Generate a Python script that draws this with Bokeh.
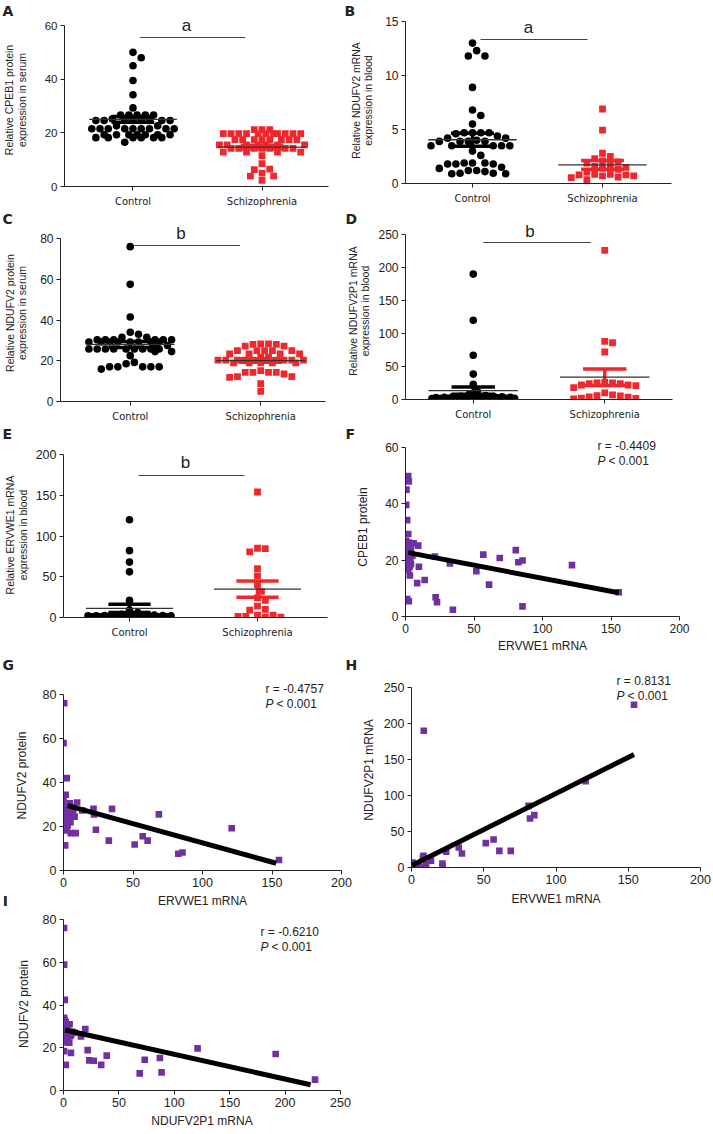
from bokeh.plotting import figure
from bokeh.models import Range1d, Label, FixedTicker
from bokeh.layouts import column, row
from bokeh.embed import file_html
from bokeh.resources import INLINE

RED = "#f0282d"
PURPLE = "#7030a0"
INK = "#222222"
SANS = "Liberation Sans"

GROUP_LABELS = {1: "Control", 2: "Schizophrenia"}

# ---------------- data ----------------
a_control = [50.0, 48.0, 45.0, 39.5, 34.2, 29.3, 26.6, 26.6, 26.6, 26.6, 26.6, 25.2,
             24.6, 24.6, 24.6, 24.6, 24.6, 24.6, 24.6, 24.6, 22.6, 22.6,
             21.5, 21.5, 21.5, 21.5, 21.5, 21.5, 21.5, 21.5, 21.5,
             19.3, 19.3, 19.3, 19.3, 19.3, 19.3, 19.3,
             18.2, 18.2, 18.2, 18.2, 18.2, 18.2, 16.5]
a_schizo = [21.2, 21.2, 21.2] + [19.7] * 11 + [17.5] * 8 + [15.5] * 7 + [14.2] * 7 + \
           [12.8] * 4 + [11.5, 8.5, 6.5, 6.3, 5.0, 3.9, 3.9, 2.3]
a_mean = [25.0, 14.7]
a_sem = [1.1, 0.7]

b_control = [13.0, 12.3, 11.8, 11.8, 8.9, 6.8, 6.3, 5.5, 4.7, 4.7, 4.7, 4.7, 4.6, 4.4,
             4.2, 4.2, 4.0, 3.9, 3.9, 3.9, 3.9, 3.5, 3.5, 3.5, 3.5, 3.5, 3.0, 2.6,
             1.9, 1.9, 1.9, 1.8, 1.8, 1.8, 1.5, 1.4, 1.2, 1.2, 1.1, 0.95, 0.95, 0.9, 0.9]
b_schizo = [6.9, 4.95, 2.8, 2.5, 2.3, 2.1, 2.0, 1.9, 1.7, 1.6, 1.5, 1.4, 1.3, 1.05,
            0.85, 0.85, 0.8, 0.8, 0.7, 0.7, 0.6, 0.55, 0.35]
b_mean = [4.05, 1.72]
b_sem = [0.6, 0.4]

c_control = [76.0, 57.5, 41.5, 34.0, 33.0, 31.5, 31.5] + [30.3] * 6 + [29.2] * 8 + \
            [27.5] * 2 + [25.8] * 9 + [24.5, 24.5, 22.5, 19.2, 18.5] + [17.0] * 5 + [15.9]
c_schizo = [28.3, 28.3, 28.0, 28.0, 27.2, 27.2] + [25.0] * 5 + [23.4] * 4 + [21.7] * 2 + \
           [20.3] * 10 + [19.0] * 5 + [15.2, 14.3, 14.3, 14.3, 14.3, 13.5, 12.2, 12.2, 11.8, 8.7, 5.0]
c_mean = [28.0, 20.1]
c_sem = [1.5, 0.8]

d_control = [190, 120, 67, 38.5, 23, 12, 8, 6, 5, 4.5, 4, 4, 3.5, 3.5, 3, 3, 3, 2.5, 2.5, 2.5,
             2, 2, 2, 1.8, 1.5, 1.5, 1.5, 1.2, 1.2, 1, 1, 1, 0.8, 0.8, 0.6, 0.5, 0.5, 0.4, 0.3, 0.3]
d_schizo = [226, 88, 86, 72, 26, 25, 25, 24, 24, 22, 22, 21, 18, 10, 7, 6, 5.5, 4, 3.5, 2, 1.5, 0.8]
d_mean = [13.3, 33.8]
d_sem = [5.5, 12.5]

e_control = [120, 82, 68, 56, 21, 9, 6, 4, 3.5, 3, 3, 2.5, 2.5, 2, 2, 2, 1.5, 1.5, 1.5, 1.2, 1.2,
             1, 1, 1, 0.8, 0.8, 0.6, 0.5, 0.5, 0.4, 0.3, 0.3, 0.2]
e_schizo = [154, 85, 84.5, 80.5, 60, 51, 40, 32, 24, 21, 14, 10, 9, 3, 3, 1.5, 1.5, 0.5, 0.5]
e_mean = [11.2, 34.7]
e_sem = [5.0, 10.0]

# ERVWE1 mRNA vs CPEB1 protein (F)
f_x = [2, 2.4, 0.7, 0.5, 1.2, 2, 0.5, 2.4, 6, 9.3,
       0.5, 1, 1.5, 2, 3, 0.5, 1, 2.5, 4, 1, 3, 0.5, 2, 5, 4, 1.5, 2, 3.5, 1, 3,
       9.8, 3.2, 8.5, 14, 22, 23, 1.2, 2.4, 34.6, 32.4, 21.5, 51.7, 56.8, 61, 68.8,
       80.5, 82.4, 85.4, 85.4, 121.5, 155.6]
f_y = [49.7, 47.8, 44.9, 39.5, 34.1, 29.2, 26.8, 26.2, 25.9, 25.1,
       24, 23, 22, 21, 20.5, 20, 19.5, 19, 18.5, 18, 17.5, 17, 16.5, 21.5, 23.5, 21, 18.5, 19.5, 22.5, 24.5,
       17.6, 14.5, 11.8, 12.9, 6.8, 5.1, 6.2, 5.4, 2.4, 18.8, 21.2, 16, 21.9, 11.3, 20.7,
       23.5, 19.2, 19.8, 3.6, 18.2, 8.6]
f_fit_x = [2, 155.6]
f_fit_y = [22.6, 8.4]

# ERVWE1 mRNA vs NDUFV2 protein (G)
g_x = [0.5, 0, 2.3, 1.6, 0, 4.6, 9.8, 1, 2, 3, 0.5, 1.5, 2.5, 4, 5, 1, 3, 6, 7, 0.5, 2, 4, 8, 5,
       1.2, 2.3, 1.2, 5.3, 8.8, 13.5, 21.6, 22, 23.3, 32.6, 34.9, 51.2, 57, 60.5, 68.6,
       82.6, 85.6, 121, 155]
g_y = [76, 57.9, 42, 34.4, 31.5, 30.6, 30.9, 29, 28, 27, 26, 25, 24, 23, 22, 21.5, 20.5, 25, 27.5,
       23.5, 22.5, 26, 24.5, 29,
       18.2, 18.5, 11.4, 17, 17, 27.3, 28, 25.5, 18.5, 13.6, 28, 11.8, 15.6, 13.6, 25.5,
       7.6, 8.2, 19.2, 4.8]
g_fit_x = [3, 153]
g_fit_y = [29.5, 3.3]

# ERVWE1 mRNA vs NDUFV2P1 mRNA (H)
h_x = [154, 8.5, 81, 82, 85, 51.4, 56.8, 60.8, 68.7, 32.7, 34.9, 21.4, 21.4, 8.3, 7.9, 13.5,
       10.1, 4.5, 0.7, 0.7, 2.3, 120.5, 1.5, 3, 0.5, 1, 2, 5, 6, 24, 3.5]
h_y = [226, 190, 85.6, 68, 72.7, 33.8, 38.9, 23.1, 23.1, 27.8, 19.4, 5.6, 0.9, 16.2, 13, 9.3,
       4.6, 2.3, 7, 0, 1, 120, 3, 1.5, 2, 0.5, 4, 3.5, 0.5, 22, 0.2]
h_fit_x = [0.5, 154]
h_fit_y = [3, 157]

# NDUFV2P1 mRNA vs NDUFV2 protein (I)
i_x = [0.5, 0.6, 1.2, 0.5, 1, 2, 3, 1.5, 4, 5.5, 0.5, 2.5, 1, 3.5, 5, 7, 0.5, 2, 4, 1, 3, 6, 8, 10,
       0.6, 2.1, 6.7, 5.2, 19.7, 15.8, 21.8, 23.3, 27.3, 34, 39, 68.8, 73.3, 87, 88.5,
       121, 191.5, 227]
i_y = [76, 58.9, 42.4, 34, 33, 32, 31, 30, 30.5, 31, 29, 28, 27, 26.5, 27, 26, 25, 24.5, 24, 23,
       22.5, 25.5, 27.5, 27,
       18.4, 12, 17.6, 22.4, 28.8, 25.3, 18.9, 14.1, 13.9, 12, 16.3, 8, 14.4, 15.2, 8.5,
       19.7, 17.1, 5.1]
i_fit_x = [1.5, 223]
i_fit_y = [28.3, 2.7]


# ---------------- geometry helpers ----------------
class Geo:
    """Page geometry of one figure: canvas origin/size, frame box, pixel of top tick."""
    def __init__(self, x0, y0, W, H, fl, fr, ft, fb, tick_top):
        self.x0, self.y0, self.W, self.H = x0, y0, W, H
        self.fl, self.fr, self.ft, self.fb = fl, fr, ft, fb
        self.tick_top = tick_top
        self.L, self.R = fl - x0, x0 + W - fr
        self.T, self.B = ft - y0, y0 + H - fb


def make_fig(g, x_start, x_end, ymax, tick_size):
    sy = (g.fb - g.tick_top) / ymax
    y_end = ymax + (g.tick_top - g.ft) / sy
    p = figure(width=g.W, height=g.H, x_range=Range1d(x_start, x_end), y_range=Range1d(0, y_end),
               output_backend="svg", toolbar_location=None, tools="",
               min_border_left=g.L, min_border_right=g.R, min_border_top=g.T,
               min_border_bottom=g.B, background_fill_color="white", border_fill_color="white")
    try:
        p.frame_align = False
    except Exception:
        pass
    p.grid.visible = False
    p.outline_line_color = None
    for ax in (p.xaxis[0], p.yaxis[0]):
        ax.axis_line_color = INK
        ax.axis_line_width = 1
        ax.major_tick_line_color = INK
        ax.major_tick_in = 0
        ax.major_tick_out = 4
        ax.minor_tick_line_color = None
        ax.major_label_text_color = INK
        ax.major_label_text_font = SANS
        ax.major_label_text_font_size = tick_size
        ax.major_label_standoff = 3
        ax.axis_label_text_font = SANS
        ax.axis_label_text_font_style = "normal"
        ax.axis_label_text_color = INK
    p.yaxis.bounds = (0, ymax)
    return p, sy


def panel_letter(p, g, text, sx, sy, place, slot_left=None):
    """Panel letter held by a side panel of a figure (side panels are not clipped)."""
    if place == "above":
        x, y = sx - g.fl, g.ft - sy
    elif place == "right":
        x, y = sx - g.fr, g.fb - sy
    else:  # left, outside the y axis
        x, y = sx - slot_left, g.fb - sy
    p.add_layout(Label(x=x, y=y, x_units="screen", y_units="screen", text=text,
                       text_font="DejaVu Sans", text_font_size="14px", text_font_style="bold",
                       text_align="left", text_baseline="middle", text_color=INK), place)


def frame_text(p, g, sx, sy, text, size="12px", style="normal", align="left"):
    p.add_layout(Label(x=sx - g.fl, y=g.fb - sy, x_units="screen", y_units="screen", text=text,
                       text_font=SANS, text_font_size=size, text_font_style=style,
                       text_align=align, text_baseline="middle", text_color=INK))


def swarm(vals, sx, sy, d, wmax=44.0):
    placed = []
    out = []
    step = d / 2.0
    n = int(wmax // step)
    cands = [0.0]
    for k in range(1, n + 1):
        cands += [k * step, -k * step]
    for v in vals:
        y = v * sy
        chosen, best, best_score = None, 0.0, -1.0
        for c in cands:
            md = min([((c - px) ** 2 + (y - py) ** 2) ** 0.5 for px, py in placed] or [1e9])
            if md >= 0.92 * d:
                chosen = c
                break
            if md > best_score:
                best_score, best = md, c
        if chosen is None:
            chosen = best
        placed.append((chosen, y))
        out.append(chosen / sx)
    return out


def dot_panel(g, ctrl_px, scz_px, ymax, yticks, ylabel, ctrl, scz, means, sems, sig_px,
              sig_txt, tick_size="12px", label_standoff=7):
    sxu = scz_px - ctrl_px
    x_start = 1 - (ctrl_px - g.fl) / sxu
    x_end = 2 + (g.fr - scz_px) / sxu
    p, sy = make_fig(g, x_start, x_end, ymax, tick_size)
    p.xaxis.ticker = FixedTicker(ticks=[1, 2])
    p.xaxis.major_label_overrides = GROUP_LABELS
    p.xaxis.major_label_text_font = "DejaVu Sans"
    p.xaxis.major_label_text_font_size = "10px"
    p.xaxis.major_label_standoff = 5
    p.yaxis.ticker = FixedTicker(ticks=yticks)
    p.yaxis.axis_label = ylabel
    p.yaxis.axis_label_text_font_size = "10.5px"
    p.yaxis.axis_label_text_line_height = 1.05
    p.yaxis.axis_label_standoff = label_standoff

    cx = [1 + o for o in swarm(ctrl, sxu, sy, 8.3)]
    p.scatter(cx, ctrl, marker="circle", size=7.6, fill_color="black", line_color=None)
    rx = [2 + o for o in swarm(scz, sxu, sy, 7.8)]
    p.scatter(rx, scz, marker="square", size=6.8, fill_color=RED, line_color=None)

    for i, (m, s, col) in enumerate(zip(means, sems, ["black", RED])):
        c = i + 1
        p.segment(x0=[c - 0.165, c - 0.165, c], x1=[c + 0.165, c + 0.165, c],
                  y0=[m + s, m - s, m - s], y1=[m + s, m - s, m + s],
                  line_color=col, line_width=3.5)
    p.segment(x0=[1 - 0.34, 2 - 0.34], x1=[1 + 0.34, 2 + 0.34], y0=means, y1=means,
              line_color="#333333", line_width=1.3)

    (x0s, x1s, ybar), (xt, yt) = sig_px
    to_x = lambda s: x_start + (s - g.fl) / sxu
    to_y = lambda s: (g.fb - s) / sy
    p.segment(x0=[to_x(x0s)], x1=[to_x(x1s)], y0=[to_y(ybar)], y1=[to_y(ybar)],
              line_color="#444444", line_width=1.2)
    p.add_layout(Label(x=to_x(xt), y=to_y(yt), text=sig_txt, text_font=SANS,
                       text_font_size="17px", text_align="center", text_baseline="middle",
                       text_color=INK))
    return p


def scatter_panel(g, xmax, ymax, xticks, yticks, xlabel, ylabel, xs, ys, fx, fy, rtext,
                  ann, tick_size="12px", ylab_standoff=9, xlab_standoff=3):
    p, sy = make_fig(g, 0, xmax, ymax, tick_size)
    p.xaxis.bounds = (0, xmax)
    p.xaxis.ticker = FixedTicker(ticks=xticks)
    p.yaxis.ticker = FixedTicker(ticks=yticks)
    p.xaxis.axis_label = xlabel
    p.yaxis.axis_label = ylabel
    p.xaxis.axis_label_text_font_size = "12px"
    p.yaxis.axis_label_text_font_size = "12px"
    p.xaxis.axis_label_standoff = xlab_standoff
    p.yaxis.axis_label_standoff = ylab_standoff
    p.scatter(xs, ys, marker="square", size=6.6, fill_color=PURPLE, line_color=None)
    p.line(fx, fy, line_color="black", line_width=5)
    ax_, ay_ = ann
    frame_text(p, g, ax_, ay_, rtext)
    frame_text(p, g, ax_, ay_ + 15, "P", style="italic")
    frame_text(p, g, ax_ + 11, ay_ + 15, "< 0.001")
    return p


# ---------------- geometry (page pixels; the page template has no body margin) ----------------
gA = Geo(0, 0, 343, 212, 62, 328, 13, 186, 25)
gB = Geo(343, 0, 369, 212, 405, 671, 17, 183, 21)
gC = Geo(0, 212, 343, 214, 59, 325, 224, 401, 238)
gD = Geo(343, 212, 369, 214, 404, 672, 222, 399, 234)
gE = Geo(0, 426, 343, 229, 63, 327, 452, 617, 454)
gF = Geo(343, 426, 369, 229, 405, 679, 437, 616, 446.5)
gG = Geo(0, 655, 358, 255, 63, 341, 680, 870, 694)
gH = Geo(358, 655, 354, 255, 405, 700, 672, 867, 687)
gI = Geo(0, 910, 355, 223, 63, 340, 917, 1090, 919)

# ---------------- panels ----------------
pA = dot_panel(gA, 131, 261, 60, [0, 20, 40, 60], "Relative CPEB1 protein\nexpression in serum",
               a_control, a_schizo, a_mean, a_sem, ((138, 244, 37), (185, 25)), "a", "11.5px", 14)
panel_letter(pA, gA, "A", 2, 10, "right")

pB = dot_panel(gB, 472, 602, 15, [0, 5, 10, 15], "Relative NDUFV2 mRNA\nexpression in blood",
               b_control, b_schizo, b_mean, b_sem, ((480, 587, 39), (528, 27)), "a", "12px", 8)
panel_letter(pB, gB, "B", 344, 10, "right")

pC = dot_panel(gC, 129, 260, 80, [0, 20, 40, 60, 80], "Relative NDUFV2 protein\nexpression in serum",
               c_control, c_schizo, c_mean, c_sem, ((133, 239, 245), (180, 233)), "b", "12px", 9)
panel_letter(pC, gC, "C", 2, 218, "right")

pD = dot_panel(gD, 472, 604, 250, [0, 50, 100, 150, 200, 250],
               "Relative NDUFV2P1 mRNA\nexpression in blood",
               d_control, d_schizo, d_mean, d_sem, ((482, 590, 242), (529, 231)), "b", "12px", 4)
panel_letter(pD, gD, "D", 345, 218, "right")

pE = dot_panel(gE, 129, 257, 200, [0, 50, 100, 150, 200], "Relative ERVWE1 mRNA\nexpression in blood",
               e_control, e_schizo, e_mean, e_sem, ((138, 244, 475), (185, 462)), "b", "12.5px", 4)
panel_letter(pE, gE, "E", 2, 433, "right")

pF = scatter_panel(gF, 200, 60, [0, 50, 100, 150, 200], [0, 20, 40, 60], "ERVWE1 mRNA",
                   "CPEB1 protein", f_x, f_y, f_fit_x, f_fit_y, "r = -0.4409", (597, 445),
                   "12px", 12, 3)
panel_letter(pF, gF, "F", 345, 433, "right")

pG = scatter_panel(gG, 200, 80, [0, 50, 100, 150, 200], [0, 20, 40, 60, 80], "ERVWE1 mRNA",
                   "NDUFV2 protein", g_x, g_y, g_fit_x, g_fit_y, "r = -0.4757", (265, 688),
                   "12.5px", 11, 4)
panel_letter(pG, gG, "G", 2, 664, "above")
panel_letter(pG, gG, "H", 345, 664, "right")
# left side panel of G: its slot lies just outside the y axis block (about 47 px wide)
panel_letter(pG, gG, "I", 7, 900, "left", slot_left=gG.fl - (47 + 5.2))

pH = scatter_panel(gH, 200, 250, [0, 50, 100, 150, 200], [0, 50, 100, 150, 200, 250],
                   "ERVWE1 mRNA", "NDUFV2P1 mRNA", h_x, h_y, h_fit_x, h_fit_y, "r = 0.8131",
                   (610, 680), "12.5px", 5, 5)

pI = scatter_panel(gI, 250, 80, [0, 50, 100, 150, 200, 250], [0, 20, 40, 60, 80],
                   "NDUFV2P1 mRNA", "NDUFV2 protein", i_x, i_y, i_fit_x, i_fit_y,
                   "r = -0.6210", (260, 931), "12.5px", 9, 4)

layout = column(row(pA, pB), row(pC, pD), row(pE, pF), row(pG, pH), row(pI))

with open("out.html", "w") as fh:
    fh.write(file_html(layout, INLINE))
